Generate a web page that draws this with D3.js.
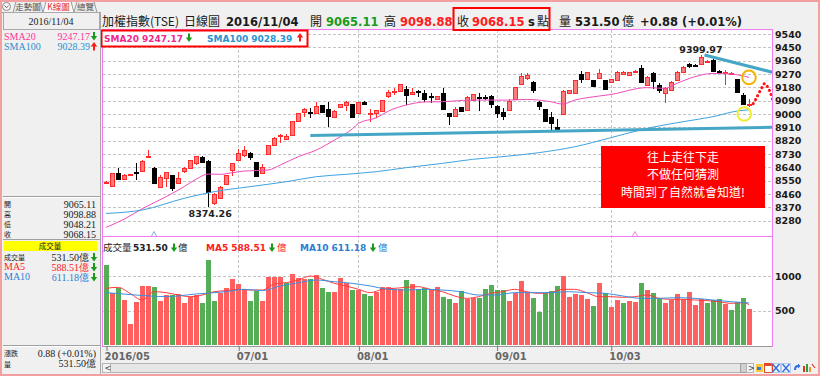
<!DOCTYPE html>
<html>
<head>
<meta charset="utf-8">
<script src="https://cdn.jsdelivr.net/npm/d3@7"></script>
<style>
  body { margin: 0; background: #f0f0f0; }
  svg { display: block; }
</style>
</head>
<body>
<svg id="chart" width="820" height="376"></svg>
<script>
// ---- data ----
const opens  = [8532,8514,8600,8563,8584,8606,8617,8708,8635,8509,8566,8588,8540,8610,8633,8672,8708,8685,8401,8438,
  8527,8617,8690,8723,8739,8674,8606,8728,8791,8847,8831,8858,8955,9016,9016,9009,9059,9032,8982,9049,
  9056,9068,9005,9083,9002,9009,9023,9122,9153,9158,9167,9135,9153,9144,9119,9101,9140,9005,8982,9045,
  9032,9095,9115,9115,9122,9054,9016,9032,9099,9200,9242,9218,9083,9032,8982,8914,9005,9140,9140,9270,
  9234,9230,9241,9229,9218,9234,9268,9263,9280,9313,9196,9274,9196,9144,9166,9234,9286,9337,9333,9337,
  9358,9364,9288,9283,9272,9234,9128,9065.11];
const highs  = [8548,8604,8638,8595,8596,8667,8690,8757,8640,8586,8610,8590,8606,8640,8692,8719,8717,8688,8470,8512,
  8590,8670,8761,8784,8746,8676,8660,8790,8842,8865,8866,8953,9010,9038,9038,9083,9061,9083,9025,9070,
  9085,9070,9083,9090,9034,9027,9097,9162,9173,9205,9189,9173,9162,9162,9139,9124,9173,9007,9045,9047,
  9119,9137,9140,9128,9128,9061,9038,9099,9182,9279,9275,9220,9085,9034,9016,8966,9160,9164,9232,9292,
  9283,9232,9301,9232,9238,9288,9290,9286,9295,9331,9254,9283,9207,9180,9220,9288,9321,9346,9337,9399.97,
  9366,9368,9297,9299,9281,9236,9140,9098.88];
const lows   = [8525,8512,8555,8560,8580,8554,8615,8700,8527,8502,8509,8483,8538,8604,8630,8655,8672,8374.26,8386,8435,
  8525,8581,8688,8712,8690,8575,8606,8725,8788,8802,8829,8856,8953,8982,8970,9007,9010,8914,8980,9045,
  9018,8980,9003,9065,8948,8970,9020,9106,9128,9155,9061,9133,9117,9083,9072,9099,9032,8926,8980,9014,
  9030,9093,9023,9097,9038,8975,8960,9030,9097,9196,9230,9140,9027,8946,8887,8897,9003,9135,9138,9207,
  9232,9189,9239,9162,9210,9232,9265,9260,9276,9207,9194,9166,9144,9076,9162,9232,9284,9308,9322,9335,
  9345,9281,9274,9196,9265,9140,9061,9048.21];
const closes = [8540,8600,8560,8590,8592,8602,8683,8717,8536,8577,8606,8498,8571,8633,8690,8717,8676,8476,8460,8509,
  8588,8667,8739,8757,8712,8577,8645,8788,8840,8856,8852,8951,9007,9034,9013,9054,9013,8986,9023,9066,
  9079,8982,9081,9072,9005,9027,9095,9151,9155,9203,9128,9151,9150,9106,9117,9122,9034,8982,9032,9016,
  9117,9135,9113,9112,9068,9005,8986,9090,9180,9257,9264,9167,9056,8948,8941,8899,9158,9162,9230,9234,
  9281,9191,9274,9170,9236,9286,9281,9283,9290,9218,9252,9218,9162,9178,9218,9286,9319,9322,9331,9387,
  9360,9292,9286,9286,9274,9144,9067.27,9068.15];
const prevClose = 8555;
// volume, 億
const volumes = [1158,760,822,654,308,630,856,856,837,645,726,726,741,616,702,726,616,1230,645,750,
  822,952,880,808,645,789,645,990,990,981,894,1029,966,952,952,1014,822,774,774,966,
  894,798,798,741,712,774,846,837,808,808,942,885,808,822,808,837,702,664,616,789,
  664,678,678,808,870,798,798,645,760,928,774,678,486,760,789,856,1000,702,741,726,
  664,568,904,750,558,654,616,640,630,894,798,760,678,616,654,741,664,765,582,664,
  616,654,664,597,510,630,678,531.5];
// moving averages read at sample points [index, value]
const sma20Pts  = [[0,8235],[3,8290],[6,8360],[10,8442],[13,8510],[15,8560],[17,8595],[19,8593],[21,8604],[23,8615],
  [27,8622],[29,8656],[32,8712],[35,8757],[38,8824],[41,8900],[42,8937],[45,8975],[47,9020],[50,9061],[53,9081],
  [56,9083],[58,9088],[61,9094],[64,9094],[67,9094],[70,9099],[72,9094],[74,9083],[76,9067],[78,9094],[80,9110],
  [82,9121],[85,9139],[87,9160],[90,9178],[93,9173],[95,9207],[98,9252],[101,9274],[104,9270],[107,9247.17]];
const sma100Pts = [[0,8329],[6,8352],[13,8431],[18,8476],[24,8510],[30,8543],[35,8577],[40,8593],[45,8611],[50,8638],
  [56,8667],[61,8694],[67,8716],[72,8739],[78,8779],[84,8840],[90,8903],[96,8948],[101,8982],[105,9020],[107,9028.39]];
const ma5Pts  = [[0,822],[2,837],[4,750],[6,654],[8,774],[10,760],[12,726],[14,702],[16,726],[18,774],[20,789],[22,808],
  [24,798],[26,798],[28,885],[30,904],[32,942],[34,1000],[36,952],[38,894],[40,856],[42,808],[44,760],[46,808],[48,822],
  [50,837],[52,846],[54,808],[56,774],[58,712],[60,678],[62,702],[64,750],[66,774],[68,808],[70,774],[72,750],[74,760],
  [76,808],[78,808],[80,760],[82,702],[84,702],[86,693],[88,702],[90,726],[92,678],[94,664],[96,664],[98,654],[100,645],
  [102,630],[104,606],[106,616],[107,588.51]];
const ma10Pts = [[0,760],[5,726],[10,702],[15,741],[20,774],[23,808],[26,789],[29,856],[32,904],[35,942],[38,918],[41,894],
  [44,856],[47,808],[50,798],[53,808],[56,798],[59,774],[62,726],[65,726],[68,760],[71,760],[74,760],[77,774],[80,760],
  [83,750],[86,712],[89,678],[92,678],[95,688],[98,678],[101,654],[104,630],[107,611.18]];

const priceTicks = [9540,9450,9360,9270,9180,9090,9000,8910,8820,8730,8640,8550,8460,8370,8280];
const volTicks = [1000,500];
const dateIdx = [0,22,42,65,84];
const dateLabels = ["2016/05","07/01","08/01","09/01","10/03"];
const markIdx = [8,88];

// hand drawn annotations (in index / price units)
const supportLine = [[34,8855],[111,8910]];
const downLine = [[99.6,9398],[111.2,9279]];
const guessPath = [[107.7,9070],[108.2,9105],[108.7,9145],[109.2,9182],[109.6,9205],[110.1,9182],[110.6,9140],[111.1,9075]];

// ---- layout ----
const CJK = "'Noto Sans CJK TC', sans-serif";
const NUM = "'DejaVu Sans', sans-serif";
const SERIF = "'Liberation Serif', serif";
const X0 = 103, X1 = 772, MT = 30, MB = 236, VB = 346;

const x = d3.scaleLinear().domain([0, 107]).range([106, 749]);
const y = d3.scaleLinear().domain([8280, 9540]).range([220.7, 34]);
const yv = d3.scaleLinear().domain([0, 1000]).range([345.4, 276]);
const px = i => Math.round(x(i));

const svg = d3.select("#chart");

function txt(parent, tx, ty, s, o = {}) {
  return parent.append("text").attr("x", tx).attr("y", ty)
    .attr("font-family", o.ff || NUM).attr("font-size", o.fs || 10)
    .attr("font-weight", o.fw || "normal").attr("fill", o.fill || "#1a1a1a")
    .attr("text-anchor", o.anchor || "start").text(s);
}
function arrow(parent, cx, cy, up, color) {
  const d = up
    ? `M${cx - 1},${cy + 4}v-4h-2.2l3.2,-4.5l3.2,4.5h-2.2v4z`
    : `M${cx - 1},${cy - 4}v4h-2.2l3.2,4.5l3.2,-4.5h-2.2v-4z`;
  parent.append("path").attr("d", d).attr("fill", color);
}

// background
svg.append("rect").attr("x", 0).attr("y", 0).attr("width", 820).attr("height", 376).attr("fill", "#f0f0f0");

// ---- chart panels ----
svg.append("rect").attr("x", X0).attr("y", MT).attr("width", X1 - X0).attr("height", VB - MT).attr("fill", "#fff");

svg.append("defs").append("clipPath").attr("id", "clipMain")
  .append("rect").attr("x", X0).attr("y", MT).attr("width", X1 - X0).attr("height", MB - MT);

const grid = svg.append("g").attr("stroke", "#c4c4c4").attr("stroke-dasharray", "3,2").attr("shape-rendering", "crispEdges");
grid.selectAll("line.h").data(priceTicks).join("line")
  .attr("x1", X0).attr("x2", X1).attr("y1", d => Math.round(y(d)) + 0.5).attr("y2", d => Math.round(y(d)) + 0.5);
grid.selectAll("line.hv").data(volTicks).join("line")
  .attr("x1", X0).attr("x2", X1).attr("y1", d => Math.round(yv(d)) + 0.5).attr("y2", d => Math.round(yv(d)) + 0.5);
grid.selectAll("line.v").data(dateIdx.slice(1)).join("line")
  .attr("x1", d => px(d) + 0.5).attr("x2", d => px(d) + 0.5).attr("y1", MT).attr("y2", VB);

// candles
const idx = d3.range(opens.length);
const up = i => closes[i] >= opens[i];
const cg = svg.append("g").attr("shape-rendering", "crispEdges");
cg.selectAll("line").data(idx).join("line")
  .attr("x1", i => px(i) + 0.5).attr("x2", i => px(i) + 0.5)
  .attr("y1", i => y(highs[i])).attr("y2", i => y(lows[i]))
  .attr("stroke", i => up(i) ? "#ff2a2a" : "#000");
cg.selectAll("rect").data(idx).join("rect")
  .attr("x", i => px(i) - 1.5).attr("width", 4)
  .attr("y", i => Math.round(y(Math.max(opens[i], closes[i]))) + 0.5)
  .attr("height", i => Math.max(1, Math.round(y(Math.min(opens[i], closes[i])) - y(Math.max(opens[i], closes[i])))))
  .attr("fill", i => up(i) ? "#ff7a7a" : "#000")
  .attr("stroke", i => up(i) ? "#ff2a2a" : "#000");

// moving averages on price
const lineP = d3.line().x(d => x(d[0])).y(d => y(d[1])).curve(d3.curveMonotoneX);
svg.append("path").attr("d", lineP(sma20Pts)).attr("fill", "none").attr("stroke", "#f24cba").attr("stroke-width", 1);
svg.append("path").attr("d", lineP(sma100Pts)).attr("fill", "none").attr("stroke", "#3ea2e0").attr("stroke-width", 1);

// annotations
const ann = svg.append("g").attr("clip-path", "url(#clipMain)");
const lineS = d3.line().x(d => x(d[0])).y(d => y(d[1]));
ann.append("path").attr("d", lineS(supportLine)).attr("stroke", "#45a6c6").attr("stroke-width", 3).attr("fill", "none");
ann.append("path").attr("d", lineS(downLine)).attr("stroke", "#45a6c6").attr("stroke-width", 3).attr("fill", "none");
ann.append("path").attr("d", lineS.curve(d3.curveCardinal)(guessPath)).attr("fill", "none")
  .attr("stroke", "#ff1010").attr("stroke-width", 3).attr("stroke-linecap", "round").attr("stroke-dasharray", "0.1,4.4");
svg.append("circle").attr("cx", x(107)).attr("cy", y(9247.17)).attr("r", 6.8)
  .attr("fill", "none").attr("stroke", "#f4b400").attr("stroke-width", 2);
svg.append("circle").attr("cx", x(106.2)).attr("cy", y(9000)).attr("r", 6.8)
  .attr("fill", "none").attr("stroke", "#eded35").attr("stroke-width", 2);

// high / low labels
const iHigh = d3.maxIndex(highs), iLow = d3.minIndex(lows);
txt(svg, x(iHigh), y(highs[iHigh]) - 2, highs[iHigh].toFixed(2), { fs: 9.5, fw: "bold", anchor: "middle", fill: "#222" });
txt(svg, x(iLow) + 2, y(lows[iLow]) + 10, lows[iLow].toFixed(2), { fs: 9.5, fw: "bold", anchor: "middle", fill: "#222" });

// ex-right marks
svg.selectAll("path.mk").data(markIdx).join("path")
  .attr("d", d => `M${px(d) - 2.5},236 L${px(d)},231.5 L${px(d) + 2.5},236`)
  .attr("fill", "none").attr("stroke", (d, k) => k ? "#f06cc8" : "#5a9ae0").attr("stroke-width", 0.8);

// red message box
svg.append("rect").attr("x", 601).attr("y", 146).attr("width", 164).attr("height", 62).attr("fill", "#ff0000");
["往上走往下走", "不做任何猜測", "時間到了自然就會知道!"].forEach((s, k) =>
  txt(svg, 683, 161.5 + k * 17.8, s, { ff: CJK, fs: 12, fill: "#fff", anchor: "middle" }));

// volume bars
const vUp = i => closes[i] >= (i ? closes[i - 1] : prevClose);
svg.append("g").attr("shape-rendering", "crispEdges").selectAll("rect").data(idx).join("rect")
  .attr("x", i => px(i) - 2).attr("width", 5)
  .attr("y", i => yv(volumes[i])).attr("height", i => yv(0) - yv(volumes[i]))
  .attr("fill", i => vUp(i) ? "#ff5f5f" : "#55ae55");
const lineV = d3.line().x(d => x(d[0])).y(d => yv(d[1])).curve(d3.curveMonotoneX);
svg.append("path").attr("d", lineV(ma5Pts)).attr("fill", "none").attr("stroke", "#ff3a3a").attr("stroke-width", 1);
svg.append("path").attr("d", lineV(ma10Pts)).attr("fill", "none").attr("stroke", "#3a8fe0").attr("stroke-width", 1);

// panel borders
svg.append("rect").attr("x", X0 - 0.5).attr("y", MT - 0.5).attr("width", X1 - X0 + 1).attr("height", VB - MT + 1)
  .attr("fill", "none").attr("stroke", "#f37af3");
svg.append("line").attr("x1", X0).attr("x2", X1).attr("y1", MB + 0.5).attr("y2", MB + 0.5).attr("stroke", "#f37af3");
svg.append("line").attr("x1", X0).attr("x2", X1).attr("y1", VB + 0.5).attr("y2", VB + 0.5).attr("stroke", "#999");

// price axis
const ay = svg.append("g").attr("transform", `translate(${X1},0)`)
  .call(d3.axisRight(y).tickValues(priceTicks).tickSize(0).tickPadding(3).tickFormat(d3.format("d")));
ay.select(".domain").remove();
ay.selectAll("text").attr("font-family", NUM).attr("font-size", 9.5).attr("font-weight", "bold").attr("fill", "#1a1a1a");
const av = svg.append("g").attr("transform", `translate(${X1},0)`)
  .call(d3.axisRight(yv).tickValues(volTicks).tickSize(0).tickPadding(3).tickFormat(d3.format("d")));
av.select(".domain").remove();
av.selectAll("text").attr("font-family", NUM).attr("font-size", 9.5).attr("font-weight", "bold").attr("fill", "#1a1a1a");

// date axis
const ax = svg.append("g").attr("transform", `translate(0,${VB})`)
  .call(d3.axisBottom(x).tickValues(dateIdx).tickSize(5).tickFormat((d, k) => dateLabels[k]));
ax.select(".domain").remove();
ax.selectAll("line").attr("stroke", "#777").attr("transform", "translate(0.5,0)");
ax.selectAll("text").attr("font-family", NUM).attr("font-size", 10).attr("font-weight", "bold")
  .attr("fill", "#666").attr("text-anchor", "start").attr("dx", -2).attr("dy", "0.6em");

// legends inside panels
svg.append("rect").attr("x", 101.5).attr("y", 30.5).attr("width", 206).attr("height", 16)
  .attr("fill", "#fff").attr("stroke", "#ff0000").attr("stroke-width", 2);
txt(svg, 104, 41.5, "SMA20 9247.17", { fs: 9, fw: "bold", fill: "#f0288c" });
arrow(svg, 189, 37.5, false, "#1a9a1a");
txt(svg, 207, 41.5, "SMA100 9028.39", { fs: 9, fw: "bold", fill: "#2a93d2" });
arrow(svg, 300, 37.5, true, "#ff1a1a");

txt(svg, 103, 251, "成交量", { ff: CJK, fs: 9.5, fill: "#222" });
txt(svg, 133, 251, "531.50", { fs: 9, fw: "bold", fill: "#222" });
arrow(svg, 174, 247.5, false, "#1a9a1a");
txt(svg, 178, 251, "億", { ff: CJK, fs: 9.5, fill: "#222" });
txt(svg, 206, 251, "MA5 588.51", { fs: 9, fw: "bold", fill: "#ff2020" });
arrow(svg, 272, 247.5, false, "#1a9a1a");
txt(svg, 277, 251, "億", { ff: CJK, fs: 9.5, fill: "#ff2020" });
txt(svg, 300, 251, "MA10 611.18", { fs: 9, fw: "bold", fill: "#2a7fd4" });
arrow(svg, 373, 247.5, false, "#1a9a1a");
txt(svg, 378, 251, "億", { ff: CJK, fs: 9.5, fill: "#2a7fd4" });

// ---- title bar ----
txt(svg, 102, 26, "加權指數(TSE)", { ff: CJK, fs: 12 });
txt(svg, 184, 26, "日線圖", { ff: CJK, fs: 12 });
txt(svg, 226, 26, "2016/11/04", { fs: 11.5, fw: "bold" });
txt(svg, 310, 26, "開", { ff: CJK, fs: 12 });
txt(svg, 326, 26, "9065.11", { fs: 11.5, fw: "bold", fill: "#1a9a1a" });
txt(svg, 384, 26, "高", { ff: CJK, fs: 12 });
txt(svg, 400, 26, "9098.88", { fs: 11.5, fw: "bold", fill: "#ff1a1a" });
svg.append("rect").attr("x", 453.5).attr("y", 8).attr("width", 96).attr("height", 22)
  .attr("fill", "none").attr("stroke", "#ff0000").attr("stroke-width", 2);
txt(svg, 457, 26, "收", { ff: CJK, fs: 12 });
txt(svg, 472, 26, "9068.15", { fs: 11.5, fw: "bold", fill: "#ff1a1a" });
txt(svg, 528, 26, "s", { fs: 11.5, fw: "bold" });
txt(svg, 537, 26, "點", { ff: CJK, fs: 12 });
txt(svg, 559, 26, "量", { ff: CJK, fs: 12 });
txt(svg, 575, 26, "531.50", { fs: 11.5, fw: "bold" });
txt(svg, 622, 26, "億", { ff: CJK, fs: 12 });
txt(svg, 640, 26, "+0.88 (+0.01%)", { fs: 11.5, fw: "bold" });

// ---- left info panel ----
const lp = svg.append("g");
lp.append("line").attr("x1", 100.5).attr("x2", 100.5).attr("y1", 12).attr("y2", 376).attr("stroke", "#a8a8a8");
// tabs
lp.append("circle").attr("cx", 6.5).attr("cy", 6.5).attr("r", 4).attr("fill", "#fafafa").attr("stroke", "#888");
lp.append("path").attr("d", "M4.5,5.5 L6.5,7.8 L8.5,5.5").attr("fill", "none").attr("stroke", "#666");
[[13, 43, "走勢圖", "#555"], [43, 74, "K線圖", "#e02828"], [74, 97, "總覽", "#555"]].forEach(([a, b, s, c], k) => {
  lp.append("path").attr("d", `M${a},12.5 L${a + 3},1.5 L${b - 3},1.5 L${b},12.5`)
    .attr("fill", k === 1 ? "#fbfbfb" : "#ececec").attr("stroke", "#9a9a9a");
  txt(lp, (a + b) / 2, 10, s, { ff: CJK, fs: 8.5, fill: c, anchor: "middle" });
});
lp.append("line").attr("x1", 0).attr("x2", 100).attr("y1", 12.5).attr("y2", 12.5).attr("stroke", "#9a9a9a");
lp.append("rect").attr("x", 3.5).attr("y", 12.5).attr("width", 96).attr("height", 17).attr("fill", "#f0f0f0").attr("stroke", "#a8a8a8");
txt(lp, 51, 24.5, "2016/11/04", { ff: SERIF, fs: 10, anchor: "middle", fill: "#222" });
txt(lp, 4, 39.5, "SMA20", { ff: SERIF, fs: 10, fill: "#ff3399" });
txt(lp, 90, 39.5, "9247.17", { ff: SERIF, fs: 10, fill: "#ff3399", anchor: "end" });
arrow(lp, 94, 36, false, "#1a9a1a");
txt(lp, 4, 50, "SMA100", { ff: SERIF, fs: 10, fill: "#2a8fd0" });
txt(lp, 90, 50, "9028.39", { ff: SERIF, fs: 10, fill: "#2a8fd0", anchor: "end" });
arrow(lp, 94, 46.5, true, "#ff1a1a");

lp.append("line").attr("x1", 3).attr("x2", 100).attr("y1", 196.5).attr("y2", 196.5).attr("stroke", "#a0a0a0");
lp.append("line").attr("x1", 3).attr("x2", 100).attr("y1", 197.5).attr("y2", 197.5).attr("stroke", "#fff");
[["開", "9065.11"], ["高", "9098.88"], ["低", "9048.21"], ["收", "9068.15"]].forEach(([a, b], k) => {
  txt(lp, 4, 206.5 + k * 10.3, a, { ff: CJK, fs: 7, fill: "#222" });
  txt(lp, 96, 207.5 + k * 10.3, b, { ff: SERIF, fs: 10, fill: "#222", anchor: "end" });
});
lp.append("line").attr("x1", 3).attr("x2", 100).attr("y1", 239.5).attr("y2", 239.5).attr("stroke", "#a0a0a0");
lp.append("rect").attr("x", 4).attr("y", 241).attr("width", 93).attr("height", 10).attr("fill", "#ffff00");
txt(lp, 50, 249, "成交量", { ff: CJK, fs: 7.5, anchor: "middle", fill: "#222" });
[["成交量", "531.50億", "#222"], ["MA5", "588.51億", "#ff2020"], ["MA10", "611.18億", "#2a7fd4"]].forEach(([a, b, c], k) => {
  txt(lp, 4, 260 + k * 10, a, { ff: a === "成交量" ? CJK : SERIF, fs: a === "成交量" ? 7 : 10, fill: c });
  txt(lp, 89, 260.5 + k * 10, b, { ff: SERIF, fs: 10, fill: c, anchor: "end" });
  arrow(lp, 94, 257 + k * 10, false, "#1a9a1a");
});
lp.append("line").attr("x1", 3).attr("x2", 100).attr("y1", 345.5).attr("y2", 345.5).attr("stroke", "#a0a0a0");
lp.append("line").attr("x1", 3).attr("x2", 100).attr("y1", 346.5).attr("y2", 346.5).attr("stroke", "#fff");
txt(lp, 4, 356, "漲跌", { ff: CJK, fs: 7, fill: "#222" });
txt(lp, 96, 356.5, "0.88 (+0.01%)", { ff: SERIF, fs: 10, fill: "#222", anchor: "end" });
txt(lp, 4, 366.5, "量", { ff: CJK, fs: 7, fill: "#222" });
txt(lp, 96, 367, "531.50億", { ff: SERIF, fs: 10, fill: "#222", anchor: "end" });

// ---- scrollbar and tool icons ----
const sb = svg.append("g").attr("shape-rendering", "crispEdges");
sb.append("rect").attr("x", 102.5).attr("y", 363.5).attr("width", 650).attr("height", 9).attr("fill", "#e6e6e6").attr("stroke", "#b4b4b4");
sb.append("rect").attr("x", 102.5).attr("y", 363.5).attr("width", 8).attr("height", 9).attr("fill", "#f4f4f4").attr("stroke", "#b4b4b4");
sb.append("rect").attr("x", 740.5).attr("y", 363.5).attr("width", 6).attr("height", 9).attr("fill", "#d0d0d0").attr("stroke", "#a0a0a0");
sb.append("rect").attr("x", 746.5).attr("y", 363.5).attr("width", 7).attr("height", 9).attr("fill", "#f4f4f4").attr("stroke", "#b4b4b4");
txt(svg, 104.5, 371, "<", { fs: 8, fill: "#444" });
txt(svg, 748, 371, ">", { fs: 8, fill: "#444" });
sb.append("rect").attr("x", 756).attr("y", 364).attr("width", 7).attr("height", 8).attr("fill", "#f5c842");
sb.append("rect").attr("x", 757).attr("y", 367).attr("width", 4).attr("height", 3).attr("fill", "#3a7ad8");
sb.append("rect").attr("x", 764.5).attr("y", 363.5).attr("width", 8).attr("height", 9).attr("fill", "#fff").attr("stroke", "#e04a2a");
sb.append("rect").attr("x", 764.5).attr("y", 363.5).attr("width", 8).attr("height", 2).attr("fill", "#e04a2a");
[776, 786].forEach(cx => {
  svg.append("path").attr("d", `M${cx - 3.5},364 L${cx + 3.5},372 M${cx + 3.5},364 L${cx - 3.5},372`)
    .attr("stroke", "#2a6ee0").attr("stroke-width", 1.3);
  svg.append("rect").attr("x", cx - 4.5).attr("y", 363.5).attr("width", 9).attr("height", 9).attr("fill", "none")
    .attr("stroke", "#7aa8f0").attr("stroke-dasharray", "1,1");
});
svg.append("path").attr("d", "M794,370 q0,-5 4,-5 l0,-1.5 l2.5,2.5 l-2.5,2.5 l0,-1.5 q-2,0 -2,3")
  .attr("fill", "#2a6ee0");
sb.append("rect").attr("x", 803).attr("y", 366).attr("width", 2).attr("height", 6).attr("fill", "#e03030");
sb.append("rect").attr("x", 806).attr("y", 364).attr("width", 2).attr("height", 8).attr("fill", "#30a030");
sb.append("rect").attr("x", 809).attr("y", 367).attr("width", 2).attr("height", 5).attr("fill", "#e0a030");
svg.append("path").attr("d", "M812,364 L815,368").attr("stroke", "#e03030").attr("stroke-width", 1.2);

// window border
svg.append("rect").attr("x", 1).attr("y", 1).attr("width", 818).attr("height", 374)
  .attr("fill", "none").attr("stroke", "#f2a0a0").attr("stroke-width", 2);
</script>
</body>
</html>
